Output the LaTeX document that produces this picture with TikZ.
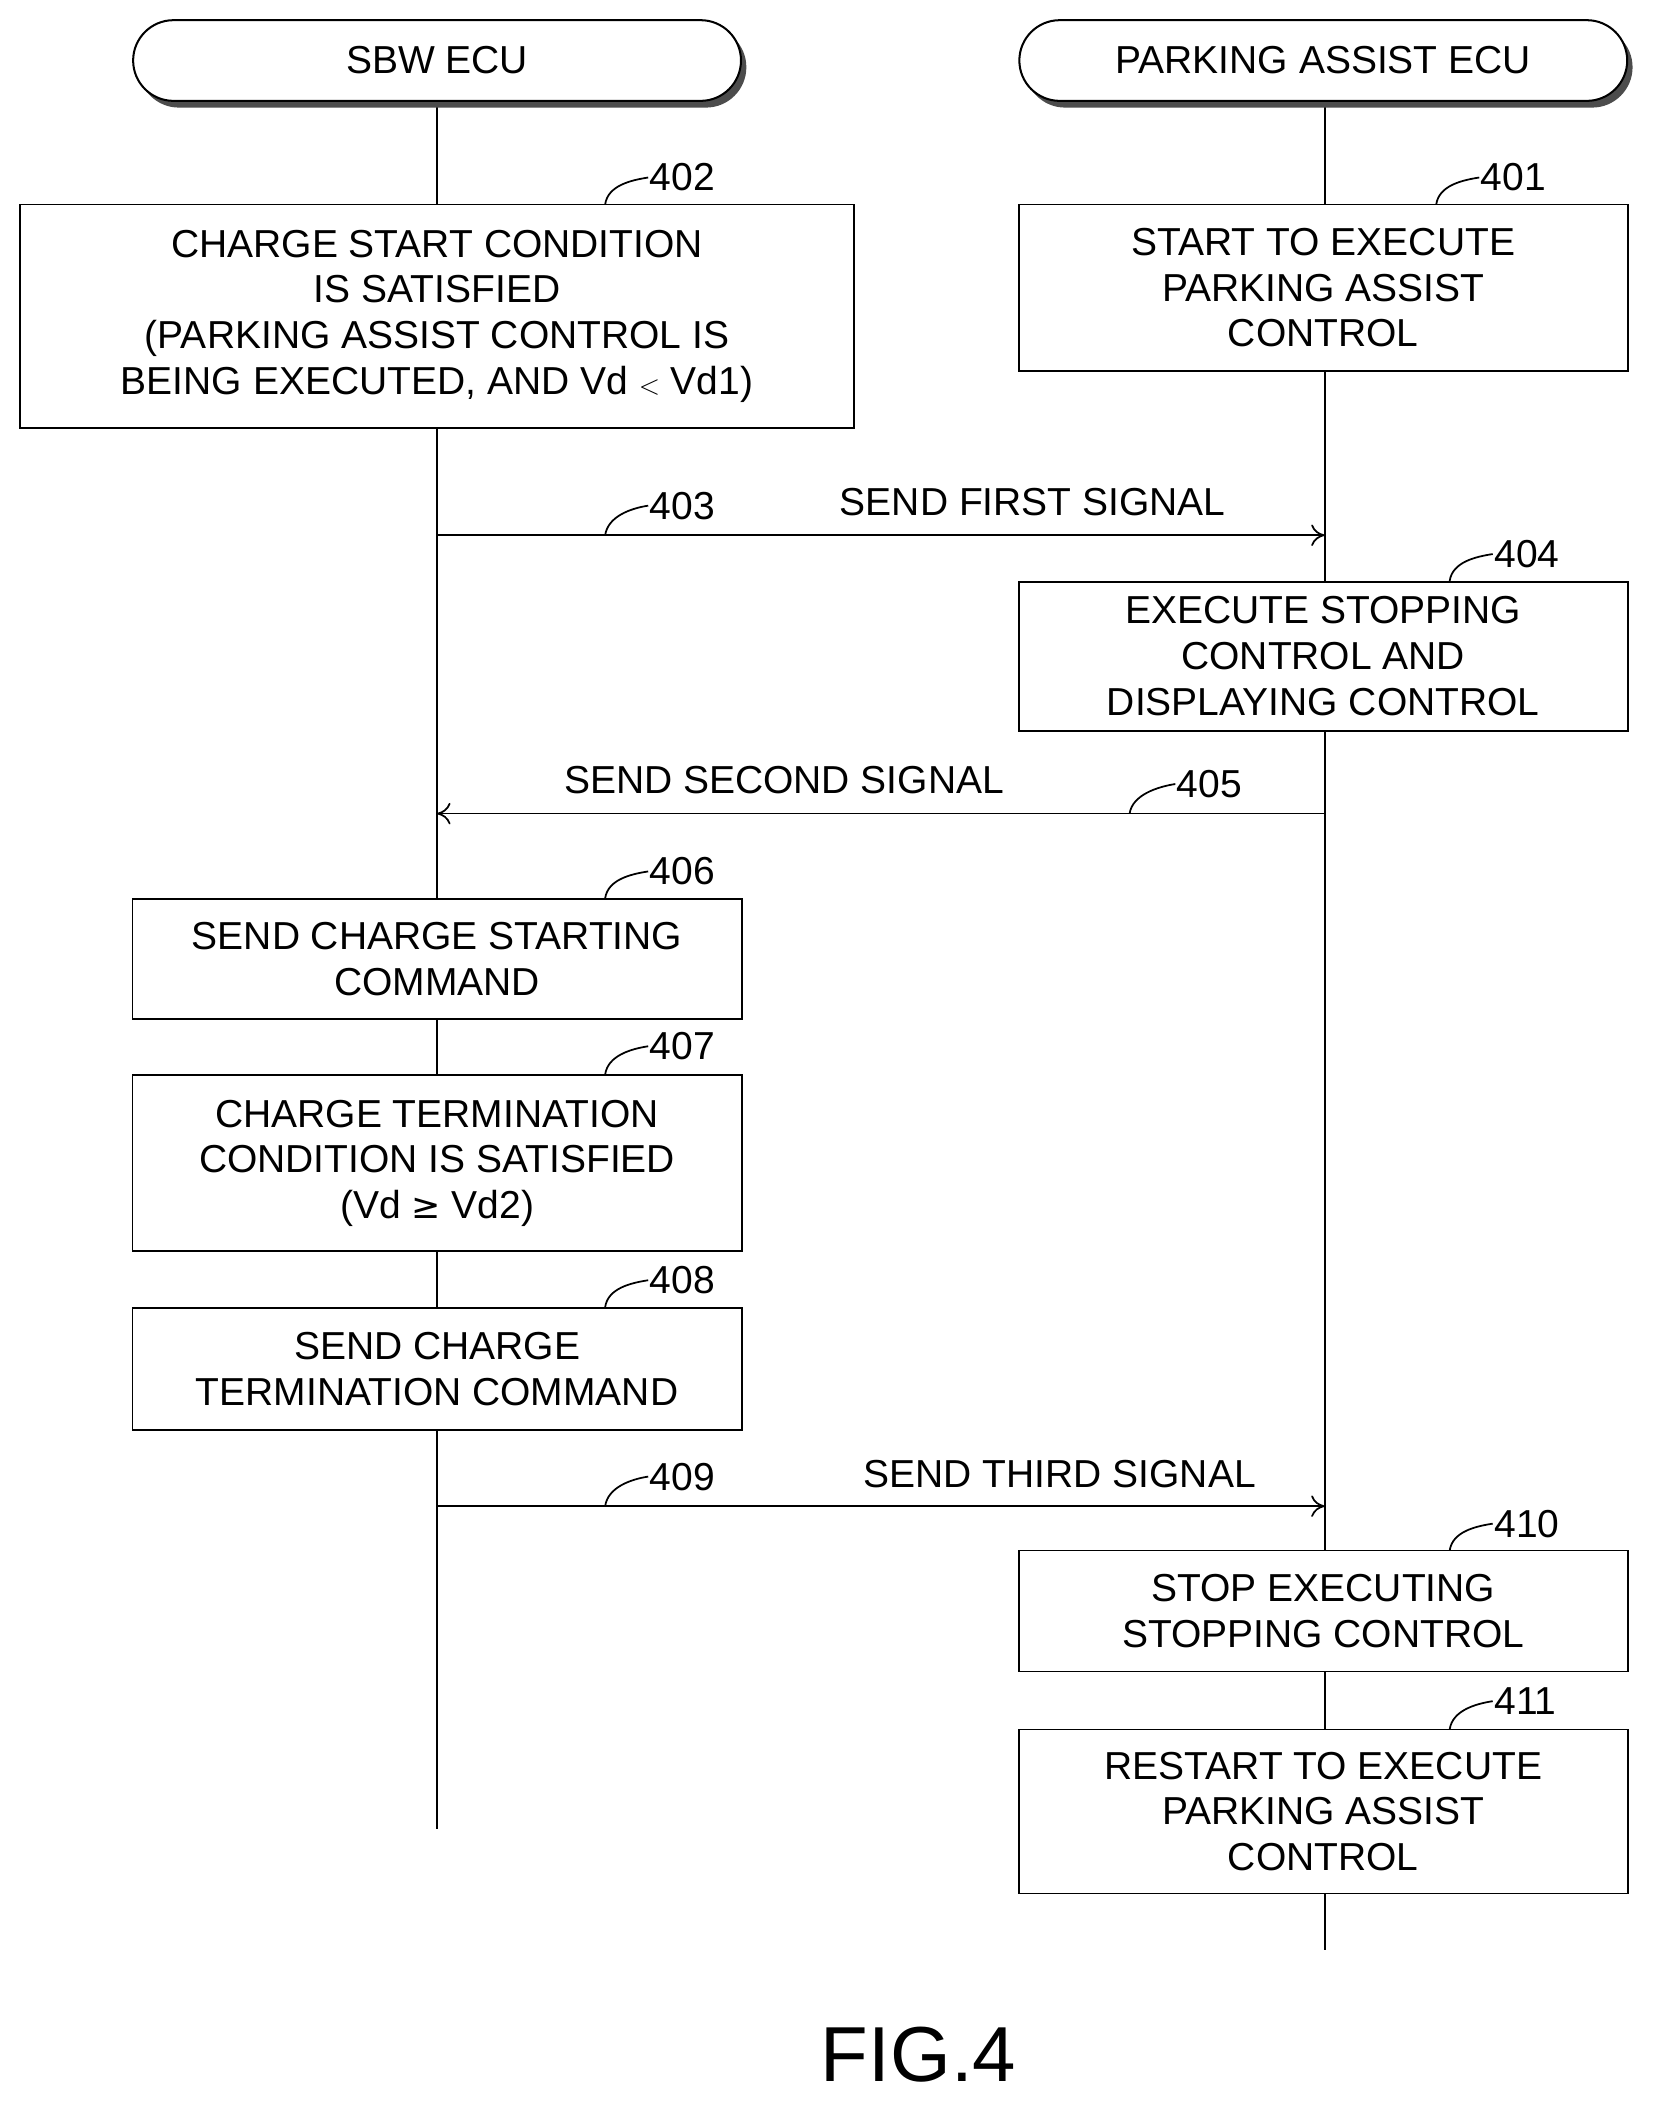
\documentclass[tikz,border=0pt]{standalone}
\usepackage{fontspec}
\setmainfont{Liberation Sans}
\usetikzlibrary{shapes.misc,shadows,arrows.meta}
\begin{document}
\begin{tikzpicture}[x=1pt,y=-1pt,
  txt/.style={font=\fontsize{29}{34}\selectfont,align=center,inner sep=0pt},
  term/.style={rounded rectangle,draw,line width=1.5pt,fill=white,minimum width=452pt,minimum height=60pt,txt,
    drop shadow={shadow xshift=4pt,shadow yshift=-5pt,fill=black!70,opacity=1}},
  box/.style={draw,line width=1.3pt,fill=white,txt},
  life/.style={line width=1.3pt},
  msg/.style={line width=1.3pt,-{To[length=10pt,width=16pt]}},
  lead/.style={line width=1.3pt},
  num/.style={txt,anchor=west}]
\useasboundingbox (0,0) rectangle (1230,1572);
% lifelines
\coordinate (Ltop) at (325,75); \coordinate (Lbot) at (325,1360);
\coordinate (Rtop) at (985,75); \coordinate (Rbot) at (985,1450);
\draw[life] (Ltop) -- (Lbot);
\draw[life] (Rtop) -- (Rbot);
\node[term] (sbw) at (325,45) {SBW ECU};
\node[term] (pa) at (984,45) {PARKING ASSIST ECU};
% boxes
\newcommand{\mybox}[6]{\node[box,minimum width=#3pt,minimum height=#4pt] (#1) at (#2) {#5};}
\mybox{b402}{325,235}{620}{166}{CHARGE START CONDITION\\IS SATISFIED\\(PARKING ASSIST CONTROL IS\\BEING EXECUTED, AND Vd {\fontspec{DejaVu Sans}\fontsize{22}{34}\selectfont$<$} Vd1)}{}
\mybox{b401}{984,214}{453}{124}{START TO EXECUTE\\PARKING ASSIST\\CONTROL}{}
\mybox{b404}{984,488}{453}{111}{EXECUTE STOPPING\\CONTROL AND\\DISPLAYING CONTROL}{}
\mybox{b406}{325,713}{453}{89}{SEND CHARGE STARTING\\COMMAND}{}
\mybox{b407}{325,865}{453}{131}{CHARGE TERMINATION\\CONDITION IS SATISFIED\\(Vd {\fontspec{DejaVu Sans}\fontsize{26}{34}\selectfont ≥} Vd2)}{}
\mybox{b408}{325,1018}{453}{91}{SEND CHARGE\\TERMINATION COMMAND}{}
\mybox{b410}{984,1198}{453}{90}{STOP EXECUTING\\STOPPING CONTROL}{}
\mybox{b411}{984,1347}{453}{122}{RESTART TO EXECUTE\\PARKING ASSIST\\CONTROL}{}
% messages
\coordinate (m1a) at (325,398); \coordinate (m1b) at (985,398);
\draw[msg] (m1a) -- (m1b);
\node[txt] (t1) at (768,373) {SEND FIRST SIGNAL};
\coordinate (m2a) at (985,605); \coordinate (m2b) at (325,605);
\draw[msg] (m2a) -- (m2b);
\node[txt] (t2) at (583,580) {SEND SECOND SIGNAL};
\coordinate (m3a) at (325,1120); \coordinate (m3b) at (985,1120);
\draw[msg] (m3a) -- (m3b);
\node[txt] (t3) at (788,1096) {SEND THIRD SIGNAL};
% reference numbers with leaders
\newcommand{\refnum}[4]{%
  \node[num] (#1) at (#3) {#2};
  \coordinate (#1s) at (#4);
  \draw[lead] (#1s) .. controls ($(#1s)+(2,-14)$) and ($(#1.west)+(-14,2)$) .. ($(#1.west)+(-1,0)$);}
\usetikzlibrary{calc}
\refnum{n402}{402}{483,132}{450,152}
\refnum{n401}{401}{1101,132}{1068,152}
\refnum{n403}{403}{483,376}{450,398}
\refnum{n404}{404}{1111,412}{1078,432}
\refnum{n405}{405}{875,583}{840,605}
\refnum{n406}{406}{483,648}{450,668}
\refnum{n407}{407}{483,778}{450,799}
\refnum{n408}{408}{483,952}{450,972}
\refnum{n409}{409}{483,1098}{450,1120}
\refnum{n410}{410}{1111,1133}{1078,1153}
\refnum{n411}{411}{1111,1265}{1078,1286}
\node[inner sep=0pt,font=\fontsize{58}{60}\selectfont] (fig) at (683,1528) {FIG.4};
\end{tikzpicture}
\end{document}
